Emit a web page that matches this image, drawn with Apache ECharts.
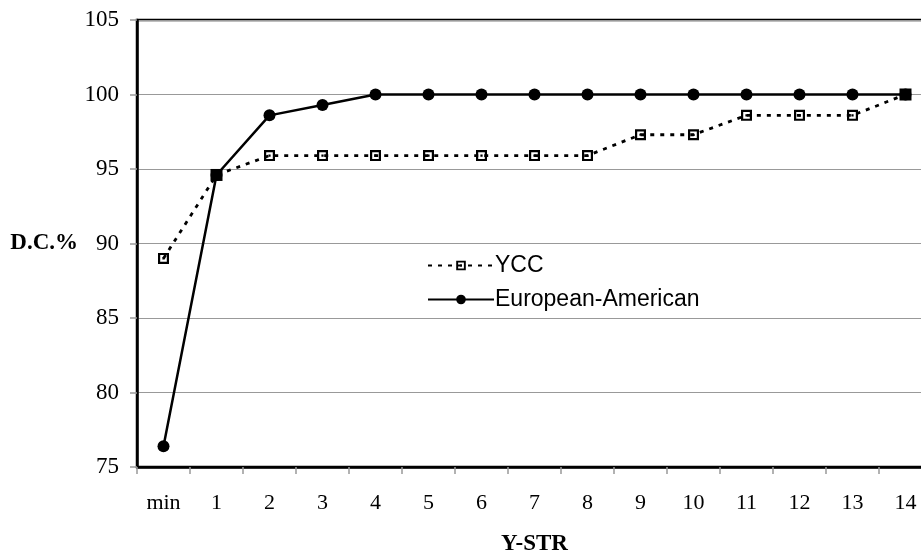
<!DOCTYPE html>
<html>
<head>
<meta charset="utf-8">
<script src="https://cdn.jsdelivr.net/npm/echarts@6/dist/echarts.min.js"></script>
<style>html,body{margin:0;padding:0;background:#fff}#c{width:921px;height:553px}</style>
</head>
<body>
<div id="c"></div>
<script>
const categories = ['min','1','2','3','4','5','6','7','8','9','10','11','12','13','14'];
const yccValues = [89.0, 94.6, 95.9, 95.9, 95.9, 95.9, 95.9, 95.9, 95.9, 97.3, 97.3, 98.6, 98.6, 98.6, 100];
const euroValues = [76.4, 94.6, 98.6, 99.3, 100, 100, 100, 100, 100, 100, 100, 100, 100, 100, 100];
const seriesNames = ['YCC', 'European-American'];

const hollowSquare = 'path://M0,0H10V10H0Z M2,2V8H8V2Z M4,4H6V6H4Z';
const yccData = yccValues.map((v, i) => v === euroValues[i]
  ? { value: v, symbol: 'rect', symbolSize: 12 }
  : v);

const chart = echarts.init(document.getElementById('c'), null, { renderer: 'canvas' });
const serif = '"Liberation Serif", "Times New Roman", serif';
const sans = '"Liberation Sans", Arial, sans-serif';
chart.setOption({
  animation: false,
  backgroundColor: '#fff',
  grid: { left: 137, top: 20, width: 795, height: 447, show: true, borderColor: '#000', borderWidth: 2.5, backgroundColor: 'transparent', containLabel: false, outerBoundsMode: 'none' },
  legend: {
    orient: 'vertical', left: 422, top: 249, itemWidth: 66, itemHeight: 12, itemGap: 11,
    textStyle: { fontFamily: sans, fontSize: 23, color: '#000', padding: [0, 0, 0, -4] },
    data: seriesNames
  },
  xAxis: {
    type: 'category', data: categories, boundaryGap: true,
    name: 'Y-STR', nameLocation: 'middle', nameGap: 66, nameMoveOverlap: false,
    nameTextStyle: { fontFamily: serif, fontWeight: 'bold', fontSize: 23, color: '#000' },
    axisLine: { lineStyle: { color: '#000', width: 2.5 } },
    axisTick: { show: true, length: 7, lineStyle: { color: '#999', width: 1.5 } },
    axisLabel: { fontFamily: serif, fontSize: 22, color: '#000', margin: 25 }
  },
  yAxis: {
    type: 'value', min: 75, max: 105, interval: 5,
    name: 'D.C.%', nameLocation: 'middle', nameRotate: 0, nameGap: 59,
    nameTextStyle: { fontFamily: serif, fontWeight: 'bold', fontSize: 23, color: '#000', padding: [4, 0, 0, 0] },
    axisLine: { show: true, lineStyle: { color: '#000', width: 2.5 } },
    axisTick: { show: true, length: 7, lineStyle: { color: '#999', width: 1.5 } },
    axisLabel: { fontFamily: serif, fontSize: 23, color: '#000', margin: 18 },
    splitLine: { lineStyle: { color: '#999', width: 1.2 } }
  },
  series: [
    {
      name: seriesNames[1], type: 'line', data: euroValues, z: 2,
      symbol: 'circle', symbolSize: 12,
      lineStyle: { color: '#000', width: 2.5 },
      itemStyle: { color: '#000' }
    },
    {
      name: seriesNames[0], type: 'line', data: yccData, z: 3,
      symbol: hollowSquare, symbolSize: 11,
      lineStyle: { color: '#000', width: 2.8, type: [4, 6] },
      itemStyle: { color: '#000' }
    }
  ]
});
</script>
</body>
</html>
